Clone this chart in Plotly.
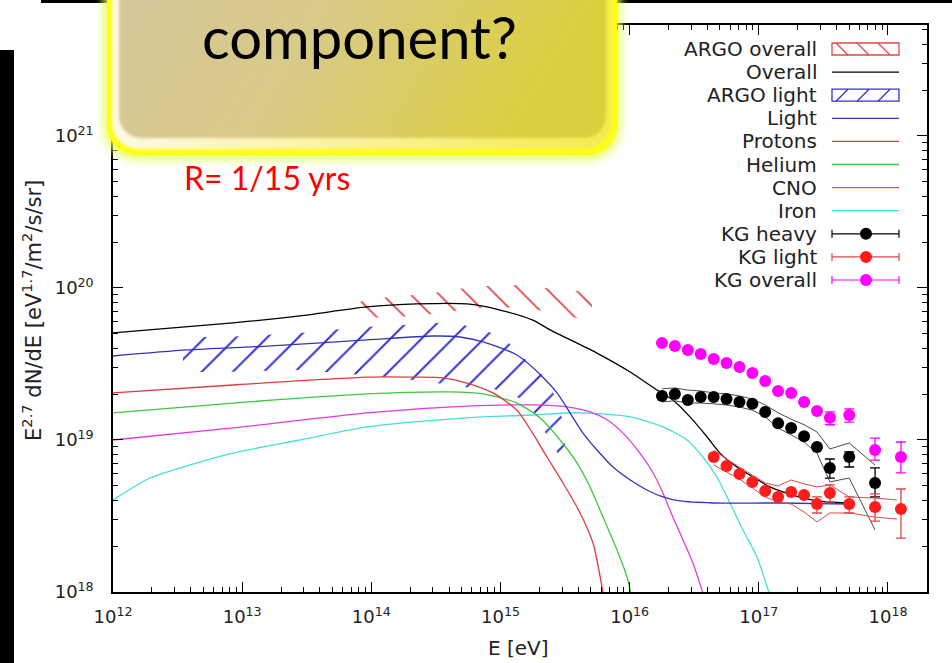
import base64
import plotly.graph_objects as go

# ---------------- model curves: E [eV] and E^2.7 dN/dE ----------------
E_overall = [1.0e12, 8.49e12, 2.80e13, 9.26e13, 2.26e14, 5.50e14, 9.91e14, 1.78e15, 2.42e15, 5.58e15,
             1.01e16, 1.63e16, 2.16e16, 2.93e16, 3.97e16, 5.00e16, 6.77e16, 9.01e16, 1.22e17, 1.54e17,
             2.20e17, 3.37e17, 5.08e17]
F_overall = [5.06e19, 5.89e19, 6.55e19, 7.50e19, 7.85e19, 7.85e19, 7.16e19, 6.15e19, 5.30e19, 3.73e19,
             2.80e19, 2.13e19, 1.83e19, 1.42e19, 1.05e19, 8.20e18, 6.64e18, 5.71e18, 4.91e18, 4.55e18,
             4.15e18, 3.91e18, 3.85e18]

E_light = [1.0e12, 3.74e12, 1.56e13, 9.26e13, 3.00e14, 4.86e14, 7.32e14, 1.34e15, 2.13e15, 2.74e15,
           3.45e15, 4.35e15, 5.58e15, 7.43e15, 1.01e16, 1.36e16, 1.81e16, 2.45e16, 4.42e16, 1.46e17,
           5.08e17]
F_light = [3.57e19, 3.91e19, 4.15e19, 4.55e19, 4.83e19, 4.76e19, 4.42e19, 3.62e19, 2.59e19, 2.04e19,
           1.51e19, 1.11e19, 8.59e18, 6.64e18, 5.46e18, 4.69e18, 4.22e18, 3.97e18, 3.85e18, 3.85e18,
           3.79e18]

E_protons = [1.0e12, 8.49e12, 9.26e13, 2.26e14, 3.59e14, 5.50e14, 8.75e14, 1.34e15, 1.75e15, 2.29e15,
             3.05e15, 4.13e15, 5.20e15, 6.22e15]
F_protons = [2.04e19, 2.30e19, 2.59e19, 2.59e19, 2.56e19, 2.37e19, 2.04e19, 1.57e19, 1.13e19, 7.73e18,
             5.21e18, 3.31e18, 2.10e18, 9.85e17]

E_helium = [1.0e12, 8.49e12, 9.26e13, 4.06e14, 7.32e14, 1.34e15, 2.02e15, 2.89e15, 3.91e15, 4.93e15,
            6.22e15, 7.98e15, 9.53e15, 1.02e16]
F_helium = [1.51e19, 1.75e19, 2.01e19, 2.07e19, 2.01e19, 1.75e19, 1.40e19, 1.00e19, 7.06e18, 4.91e18,
            3.11e18, 1.89e18, 1.26e18, 9.85e17]

E_cno = [1.0e12, 8.49e12, 9.26e13, 5.50e14, 1.78e15, 3.27e15, 4.93e15, 6.68e15, 8.88e15, 1.20e16,
         1.52e16, 1.81e16, 2.16e16, 2.59e16, 3.09e16, 3.69e16]
F_cno = [1.00e19, 1.20e19, 1.51e19, 1.67e19, 1.70e19, 1.65e19, 1.53e19, 1.36e19, 1.11e19, 8.20e18,
         6.07e18, 4.48e18, 3.11e18, 2.20e18, 1.55e18, 9.80e17]

E_iron = [1.0e12, 1.93e12, 3.48e12, 8.49e12, 2.80e13, 9.26e13, 5.50e14, 1.78e15, 4.13e15, 1.01e16,
          1.81e16, 2.78e16, 3.69e16, 4.74e16, 5.98e16, 7.54e16, 9.67e16, 1.20e17]
F_iron = [4.03e18, 5.62e18, 6.64e18, 8.20e18, 1.00e19, 1.22e19, 1.40e19, 1.46e19, 1.51e19, 1.42e19,
          1.22e19, 1.00e19, 7.73e18, 5.71e18, 3.85e18, 2.56e18, 1.70e18, 9.85e17]

# ---------------- ARGO-YBJ bands ----------------
E_argo_all = [7.88e13, 1.17e14, 1.67e14, 2.75e14, 3.85e14, 6.12e14, 9.06e14, 1.60e15, 2.55e15, 5.11e15]
hi_argo_all = [8.09e19, 8.59e19, 8.85e19, 9.14e19, 9.60e19, 1.02e20, 1.04e20, 1.05e20, 9.80e19, 9.42e19]
lo_argo_all = [6.35e19, 6.40e19, 6.44e19, 6.70e19, 6.95e19, 7.30e19, 7.50e19, 7.30e19, 6.95e19, 5.97e19]

E_argo_light = [3.48e12, 7.36e12, 2.80e13, 8.62e13, 2.47e14, 4.06e14, 6.02e14, 8.59e14, 1.14e15, 1.47e15,
                1.78e15, 2.21e15, 2.74e15, 3.16e15]
hi_argo_light = [4.76e19, 4.76e19, 5.06e19, 5.53e19, 5.79e19, 5.97e19, 5.53e19, 5.06e19, 4.42e19, 3.52e19,
                 3.11e19, 2.56e19, 1.83e19, 1.16e19]
lo_argo_light = [2.80e19, 2.80e19, 2.89e19, 2.68e19, 2.44e19, 2.30e19, 2.20e19, 2.17e19, 2.07e19, 1.83e19,
                 1.57e19, 1.13e19, 8.34e18, 5.89e18]

# ---------------- KASCADE-Grande ----------------
E_kg = [1.78e16, 2.24e16, 2.82e16, 3.55e16, 4.47e16, 5.62e16, 7.08e16, 8.91e16, 1.12e17, 1.41e17,
        1.78e17, 2.24e17, 2.82e17, 3.55e17, 5.01e17, 7.94e17, 1.26e18]

F_kg_all = [4.35e19, 4.15e19, 3.91e19, 3.68e19, 3.41e19, 3.21e19, 3.02e19, 2.76e19, 2.44e19, 2.10e19,
            2.04e19, 1.78e19, 1.55e19, 1.40e19, 1.46e19, 8.59e18, 7.73e18]
hi_kg_all = [None] * 13 + [1.53e19, 1.60e19, 1.03e19, 9.70e18]
lo_kg_all = [None] * 13 + [1.26e19, 1.31e19, 7.38e18, 6.07e18]

E_kg_heavy = E_kg[:16]
F_kg_heavy = [1.95e19, 2.01e19, 1.83e19, 1.92e19, 1.92e19, 1.86e19, 1.78e19, 1.73e19, 1.53e19, 1.29e19,
              1.20e19, 1.06e19, 8.99e18, 6.55e18, 7.73e18, 5.21e18]
hi_kg_heavy = [None] * 13 + [7.50e18, 8.34e18, 6.55e18]
lo_kg_heavy = [None] * 13 + [5.62e18, 6.64e18, 4.22e18]
sys_hi_heavy = [2.17e19, 2.20e19, 2.13e19, 2.10e19, 2.04e19, 2.01e19, 1.95e19, 1.86e19, 1.70e19, 1.51e19,
                1.37e19, 1.26e19, 1.13e19, 8.73e18, 9.55e18, 6.85e18]
sys_lo_heavy = [1.78e19, 1.81e19, 1.75e19, 1.75e19, 1.73e19, 1.70e19, 1.65e19, 1.57e19, 1.42e19, 1.20e19,
                1.08e19, 9.70e18, 8.20e18, 5.30e18, 5.62e18, 2.56e18]

E_kg_light = E_kg[4:]
F_kg_light = [7.73e18, 6.75e18, 5.97e18, 5.30e18, 4.62e18, 4.22e18, 4.55e18, 4.35e18, 3.79e18, 4.48e18,
              3.79e18, 3.62e18, 3.52e18]
hi_kg_light = [None] * 8 + [4.22e18, 5.06e18, 4.22e18, 4.42e18, 4.76e18]
lo_kg_light = [None] * 8 + [3.31e18, 3.91e18, 3.31e18, 2.93e18, 2.26e18]
E_sys_light = E_kg[4:16] + [1.17e18]
sys_hi_light = [8.59e18, 7.50e18, 6.64e18, 5.89e18, 5.21e18, 4.98e18, 5.46e18, 5.14e18, 4.91e18, 5.06e18,
                4.22e18, 4.15e18, 4.03e18]
sys_lo_light = [6.85e18, 6.15e18, 5.53e18, 4.83e18, 4.22e18, 3.91e18, 3.79e18, 3.36e18, 2.89e18, 3.31e18,
                3.31e18, 3.11e18, 3.02e18]

# ---------------- axes ----------------
x_tickvals = [1e12, 1e13, 1e14, 1e15, 1e16, 1e17, 1e18]
x_ticktext = ["10<sup>12</sup>", "10<sup>13</sup>", "10<sup>14</sup>", "10<sup>15</sup>",
              "10<sup>16</sup>", "10<sup>17</sup>", "10<sup>18</sup>"]
y_tickvals = [1e18, 1e19, 1e20, 1e21]
y_ticktext = ["10<sup>18</sup>", "10<sup>19</sup>", "10<sup>20</sup>", "10<sup>21</sup>"]

legend_labels = ["ARGO overall", "Overall", "ARGO light", "Light", "Protons", "Helium",
                 "CNO", "Iron", "KG heavy", "KG light", "KG overall"]

# colours
C_BLACK = "#000000"
C_BLUE = "#3434c4"
C_RED = "#e03c3c"
C_GREEN = "#3cc83c"
C_MAG = "#e03ce0"
C_CYAN = "#46dede"
C_HATCH_RED = "#e04848"
C_HATCH_BLUE = "#3232d2"
C_KG_RED = "#ff1c1c"
C_KG_MAG = "#ff00ff"

# page geometry (pixels)
W, H = 952, 663
L, R, T, B = 113, 927, 25, 592


def px(x):
    return (x - L) / (R - L)


def py(y):
    return (B - y) / (B - T)


fig = go.Figure()


def hatch_band(E, hi, lo, shape, color, size):
    fig.add_trace(go.Scatter(
        x=E + E[::-1], y=hi + lo[::-1], mode="lines", fill="toself",
        line=dict(width=0, color=color), fillcolor="rgba(0,0,0,0)",
        fillpattern=dict(shape=shape, fgcolor=color, bgcolor="rgba(0,0,0,0)",
                         size=size, solidity=0.09, fillmode="replace"),
        hoverinfo="skip", showlegend=False))


hatch_band(E_argo_all, hi_argo_all, lo_argo_all, "\\", C_HATCH_RED, 20)
hatch_band(E_argo_light, hi_argo_light, lo_argo_light, "/", C_HATCH_BLUE, 22)

for E, F, c in [(E_iron, F_iron, C_CYAN), (E_cno, F_cno, C_MAG), (E_helium, F_helium, C_GREEN),
                (E_protons, F_protons, C_RED), (E_light, F_light, C_BLUE),
                (E_overall, F_overall, C_BLACK)]:
    fig.add_trace(go.Scatter(x=E, y=F, mode="lines",
                             line=dict(color=c, width=1.3, shape="spline", smoothing=0.7),
                             hoverinfo="skip", showlegend=False))

# systematic envelopes of the KG spectra
for E, band, c in [(E_kg_heavy, sys_hi_heavy, "#4a4a4a"), (E_kg_heavy, sys_lo_heavy, "#4a4a4a"),
                   (E_sys_light, sys_hi_light, "#e04a4a"), (E_sys_light, sys_lo_light, "#e04a4a")]:
    fig.add_trace(go.Scatter(x=E, y=band, mode="lines", line=dict(color=c, width=1),
                             hoverinfo="skip", showlegend=False))


def kg_points(E, F, hi, lo, color, ecolor):
    up = [h - f if h is not None else 0 for h, f in zip(hi, F)]
    dn = [f - l if l is not None else 0 for l, f in zip(lo, F)]
    fig.add_trace(go.Scatter(
        x=E, y=F, mode="markers", marker=dict(size=12, color=color),
        error_y=dict(type="data", symmetric=False, array=up, arrayminus=dn,
                     color=ecolor, thickness=1.3, width=5),
        hoverinfo="skip", showlegend=False))


kg_points(E_kg, F_kg_all, hi_kg_all, lo_kg_all, C_KG_MAG, C_KG_MAG)
kg_points(E_kg_heavy, F_kg_heavy, hi_kg_heavy, lo_kg_heavy, C_BLACK, C_BLACK)
kg_points(E_kg_light, F_kg_light, hi_kg_light, lo_kg_light, C_KG_RED, "#d84848")

# ---------------- legend (gnuplot style: text right, key left) ----------------
shapes = []
annotations = []
row_y = [49 + 23.1 * i for i in range(len(legend_labels))]
kx0, kx1, kxm = 832, 899, 866
line_keys = {1: C_BLACK, 3: C_BLUE, 4: C_RED, 5: C_GREEN, 6: C_MAG, 7: C_CYAN}
for i, lab in enumerate(legend_labels):
    yc = row_y[i]
    annotations.append(dict(text=lab, x=px(819), y=py(yc), xref="paper", yref="paper",
                            xanchor="right", yanchor="middle", showarrow=False,
                            font=dict(family="DejaVu Sans", size=20, color="#222222")))
    if i in line_keys:
        shapes.append(dict(type="line", xref="paper", yref="paper", x0=px(kx0), x1=px(kx1),
                           y0=py(yc), y1=py(yc), line=dict(color=line_keys[i], width=1.3)))
    elif i in (0, 2):
        col = C_HATCH_RED if i == 0 else C_HATCH_BLUE
        top, bot = yc - 6, yc + 6
        shapes.append(dict(type="rect", xref="paper", yref="paper", x0=px(kx0), x1=px(kx1),
                           y0=py(bot), y1=py(top), line=dict(color=col, width=1.3)))
        for xs in (836, 857, 878):
            if i == 0:
                sx0, sy0, sx1, sy1 = xs, top, xs + 12, bot
            else:
                sx0, sy0, sx1, sy1 = xs, bot, xs + 12, top
            shapes.append(dict(type="line", xref="paper", yref="paper", x0=px(sx0), x1=px(sx1),
                               y0=py(sy0), y1=py(sy1), line=dict(color=col, width=1.3)))
    else:
        col, ecol = {8: (C_BLACK, C_BLACK), 9: (C_KG_RED, "#d84848"), 10: (C_KG_MAG, C_KG_MAG)}[i]
        shapes.append(dict(type="line", xref="paper", yref="paper", x0=px(kx0), x1=px(kx1),
                           y0=py(yc), y1=py(yc), line=dict(color=ecol, width=1.2)))
        for xe in (kx0, kx1):
            shapes.append(dict(type="line", xref="paper", yref="paper", x0=px(xe), x1=px(xe),
                               y0=py(yc - 4), y1=py(yc + 4), line=dict(color=ecol, width=1.2)))
        shapes.append(dict(type="circle", xref="paper", yref="paper", x0=px(kxm - 6), x1=px(kxm + 6),
                           y0=py(yc + 6), y1=py(yc - 6), fillcolor=col, line=dict(width=0)))

# axis titles
annotations.append(dict(text="E [eV]", x=px(518), y=py(648), xref="paper", yref="paper",
                        xanchor="center", yanchor="middle", showarrow=False,
                        font=dict(family="DejaVu Sans", size=20, color="#222222")))
annotations.append(dict(text="E<sup>2.7</sup> dN/dE [eV<sup>1.7</sup>/m<sup>2</sup>/s/sr]",
                        x=px(32), y=py(311), xref="paper", yref="paper", textangle=-90,
                        xanchor="center", yanchor="middle", showarrow=False,
                        font=dict(family="DejaVu Sans", size=21, color="#222222")))

# slide call-out texts
annotations.append(dict(text="component?", x=px(359), y=py(36.5), xref="paper", yref="paper",
                        xanchor="center", yanchor="middle", showarrow=False,
                        font=dict(family="Lato", size=58, color="#000000")))
annotations.append(dict(text="R= 1/15 yrs", x=px(182), y=py(177), xref="paper", yref="paper",
                        xanchor="left", yanchor="middle", showarrow=False,
                        font=dict(family="Lato", size=32, color="#ff0000")))

# slide decoration: frame bars and the rounded yellow call-out box
svg = f"""<svg xmlns="http://www.w3.org/2000/svg" width="{W}" height="{H}" viewBox="0 0 {W} {H}">
<defs>
<linearGradient id="fillg" x1="0" y1="0" x2="1" y2="0.25">
<stop offset="0" stop-color="#d5c69e"/>
<stop offset="0.5" stop-color="#d8ca86"/>
<stop offset="1" stop-color="#dccf3e"/>
</linearGradient>
<linearGradient id="bevel" x1="0" y1="0" x2="1" y2="0">
<stop offset="0" stop-color="#fdf9e6"/>
<stop offset="1" stop-color="#f4ec4c"/>
</linearGradient>
<filter id="glow" x="-10%" y="-40%" width="120%" height="180%">
<feGaussianBlur stdDeviation="4"/>
</filter>
<filter id="soft" x="-5%" y="-20%" width="110%" height="140%">
<feGaussianBlur stdDeviation="1.6"/>
</filter>
</defs>
<rect x="0" y="50" width="14" height="613" fill="#000"/>
<rect x="41" y="0" width="911" height="3" fill="#000"/>
<rect x="103" y="-60" width="518" height="220" rx="33" fill="#e4ff55" opacity="0.85" filter="url(#glow)"/>
<rect x="107" y="-60" width="510" height="215" rx="30" fill="#ffff10"/>
<rect x="112" y="-60" width="500" height="209" rx="26" fill="url(#bevel)" filter="url(#soft)"/>
<rect x="119" y="-60" width="487" height="198" rx="22" fill="url(#fillg)" filter="url(#soft)"/>
</svg>"""
uri = "data:image/svg+xml;base64," + base64.b64encode(svg.encode()).decode()

minor_x = [m * 10.0 ** d for d in range(12, 18) for m in range(2, 10)]
minor_y = [m * 10.0 ** d for d in range(18, 21) for m in range(2, 10)] + [2e21, 3e21, 4e21, 5e21]

axis_common = dict(type="log", showline=True, linecolor="black", linewidth=1.5, mirror="ticks",
                   ticks="inside", ticklen=10, tickwidth=1.2, tickcolor="black",
                   showgrid=False, zeroline=False, tickmode="array",
                   tickfont=dict(family="DejaVu Sans", size=18, color="#222222"))

fig.update_layout(
    width=W, height=H, margin=dict(l=L, r=W - R, t=T, b=H - B),
    paper_bgcolor="white", plot_bgcolor="white", showlegend=False,
    xaxis=dict(axis_common, range=[12, 18.302], tickvals=x_tickvals, ticktext=x_ticktext,
               ticklabelstandoff=8,
               minor=dict(tickmode="array", tickvals=minor_x, ticks="inside", ticklen=5,
                          tickwidth=1, tickcolor="black", showgrid=False)),
    yaxis=dict(axis_common, range=[18, 21.73], tickvals=y_tickvals, ticktext=y_ticktext,
               ticklabelstandoff=14,
               minor=dict(tickmode="array", tickvals=minor_y, ticks="inside", ticklen=5,
                          tickwidth=1, tickcolor="black", showgrid=False)),
    shapes=shapes,
    annotations=annotations,
    images=[dict(source=uri, xref="paper", yref="paper", x=px(0), y=py(0),
                 sizex=W / (R - L), sizey=H / (B - T), xanchor="left", yanchor="top",
                 sizing="stretch", layer="above")],
)

fig.write_html("out.html")
